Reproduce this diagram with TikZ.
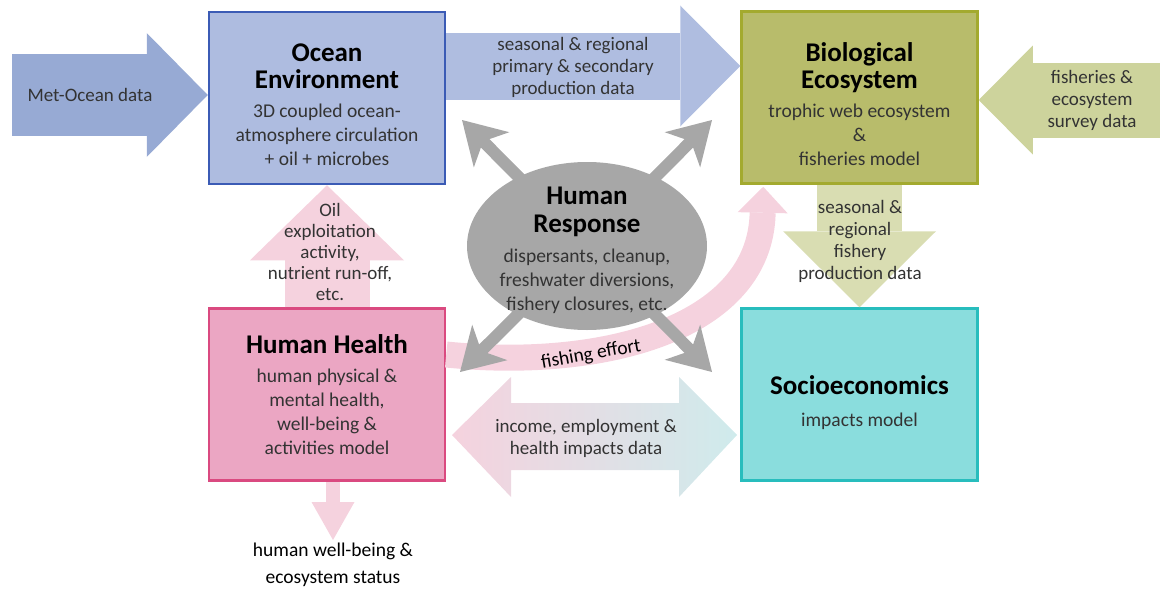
\documentclass[tikz,border=0pt]{standalone}
\usepackage{fontspec}
\setmainfont{Carlito}
\usetikzlibrary{arrows.meta, shapes.geometric, calc}
\definecolor{oceanfill}{HTML}{AEBCE0}
\definecolor{oceanline}{HTML}{3B5BB5}
\definecolor{metarrow}{HTML}{97AAD4}
\definecolor{primarrow}{HTML}{AFBDE0}
\definecolor{biofill}{HTML}{B8BC6B}
\definecolor{bioline}{HTML}{A3AA2F}
\definecolor{fisharrow}{HTML}{CDD39C}
\definecolor{prodarrow}{HTML}{D9DDB2}
\definecolor{healthfill}{HTML}{EBA6C3}
\definecolor{healthline}{HTML}{DA4A80}
\definecolor{pinkarrow}{HTML}{F5D2DE}
\definecolor{sociofill}{HTML}{8ADDDD}
\definecolor{socioline}{HTML}{28BDBD}
\definecolor{cyanarrow}{HTML}{CFEBEC}
\definecolor{respgrey}{HTML}{A7A7A7}
\definecolor{bodytext}{HTML}{333333}
\newcommand{\modeltitle}[1]{{\fontsize{27}{27}\selectfont\bfseries\color{black}#1}}
\tikzset{
  model/.style={draw, line width=2.5pt, minimum width=236pt, minimum height=172pt, align=center,
    font=\fontsize{19.5}{24}\selectfont, text=bodytext},
  fat/.style n args={3}{line width=#1, -{Triangle[width=#2, length=#3, line width=0pt]}},
  greyarrow/.style={respgrey, line width=12pt, -{Stealth[length=42pt, width=50pt, inset=12pt, line width=0pt]}},
  label/.style={align=center, text=bodytext, font=\fontsize{19}{22}\selectfont}
}

\begin{document}
\begin{tikzpicture}[x=1pt, y=-1pt]
\useasboundingbox (0,0) rectangle (1160,589);
\node[model, fill=oceanfill, draw=oceanline] (ocean) at (327,98)
  {\rule{0pt}{32pt}\modeltitle{Ocean}\\[3pt]\modeltitle{Environment}\\[5pt]3D coupled ocean-\\atmosphere circulation\\+ oil + microbes};
\node[model, fill=biofill, draw=bioline] (bio) at (859.5,97.5)
  {\rule{0pt}{32pt}\modeltitle{Biological}\\[3pt]\modeltitle{Ecosystem}\\[5pt]trophic web ecosystem\\\&\\fisheries model};
\node[model, fill=healthfill, draw=healthline] (hh) at (327,394.5)
  {\modeltitle{Human Health}\\[5pt]human physical \&\\mental health,\\well-being \&\\activities model};
\node[model, fill=sociofill, draw=socioline] (socio) at (859.5,394.5)
  {\rule{0pt}{36pt}\modeltitle{Socioeconomics}\\[8pt]impacts model};

% input and exchange arrows
\coordinate (metsrc) at (12,95);
\draw[fat={82pt}{124pt}{61pt}, metarrow] (metsrc) -- (ocean.west |- metsrc);
\node[label] (metlabel) at (90,95) {Met-Ocean data};
\coordinate (primlevel) at (0,66);
\draw[fat={67pt}{121pt}{60pt}, primarrow] (ocean.east |- primlevel) -- (bio.west |- primlevel);
\node[label] (primlabel) at (573,67) {seasonal \& regional\\primary \& secondary\\production data};
\coordinate (fishsrc) at (1160,100);
\draw[fat={75pt}{109pt}{54pt}, fisharrow] (fishsrc) -- (bio.east |- fishsrc);
\node[label] (fishlabel) at (1092,100) {fisheries \&\\ecosystem\\survey data};
\draw[fat={85pt}{153pt}{76pt}, prodarrow] (bio.south) -- (socio.north);
\node[label] (prodlabel) at (860,241) {seasonal \&\\regional\\fishery\\production data};
\draw[fat={85pt}{154pt}{75pt}, pinkarrow] (hh.north) -- (ocean.south);
\node[label, font=\fontsize{19}{21}\selectfont] (oillabel) at (330,252) {Oil\\exploitation\\activity,\\nutrient run-off,\\etc.};
\coordinate (wellout) at (333,540);
\draw[fat={14pt}{43pt}{38pt}, pinkarrow] (hh.south -| wellout) -- (wellout);
\node[label, text=black, font=\fontsize{19.5}{27}\selectfont] (welllabel) at (333,565) {human well-being \&\\ecosystem status};
\shade[left color=pinkarrow, right color=cyanarrow]
  (452,435) -- (511,377) -- (511,403) -- (679,403) -- (679,377) -- (737,435)
  -- (679,497) -- (679,470) -- (511,470) -- (511,497) -- cycle;
\node[label] (incomelabel) at (586,438) {income, employment \&\\health impacts data};

% fishing effort
\draw[line width=26pt, pinkarrow, -{Triangle[width=50pt, length=26pt, line width=0pt]}]
  ($(hh.east)+(0,-40)$) .. controls (600,370) and (760,330) .. ($(bio.south west)+(23,2)$)
  node[pos=0.32, sloped, yshift=-4pt, text=black, font=\fontsize{19.5}{22}\selectfont] (effortlabel) {fishing effort};

% human response
\coordinate (rc) at (587,246);
\coordinate (respnw) at (462,120);
\coordinate (respne) at (712,120);
\coordinate (respsw) at (460,372);
\coordinate (respse) at (712,372);
\foreach \tip in {respnw, respne, respsw, respse}
  \draw[greyarrow] (rc) -- (\tip);
\node[ellipse, fill=respgrey, minimum width=240pt, minimum height=168pt, inner sep=0pt] (resp) at (rc) {};
\node[align=center, text=bodytext, font=\fontsize{19.5}{24}\selectfont] (resplabel) at (587,250)
  {\modeltitle{Human}\\[4pt]\modeltitle{Response}\\[6pt]dispersants, cleanup,\\freshwater diversions,\\fishery closures, etc.};
\end{tikzpicture}
\end{document}
